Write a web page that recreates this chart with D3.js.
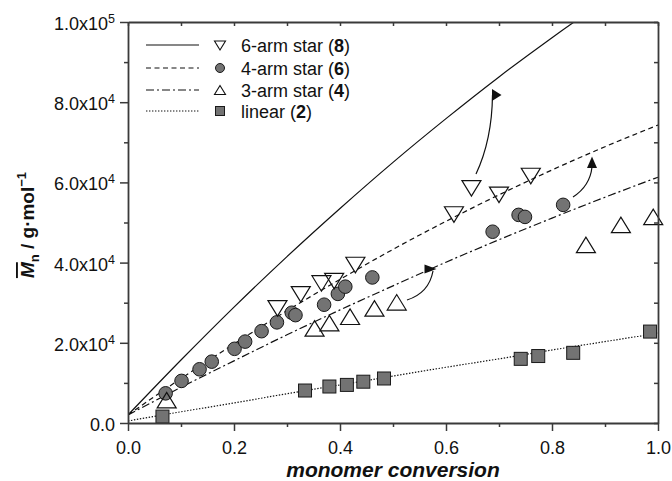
<!DOCTYPE html>
<html><head><meta charset="utf-8">
<script src="https://cdn.jsdelivr.net/npm/d3@7"></script>
<style>
html,body{margin:0;padding:0;background:#fff;}
svg{display:block;font-family:"Liberation Sans",Arial,Helvetica,sans-serif;}
</style></head>
<body>
<svg id="chart" width="672" height="481"></svg>
<script>
// ---------- data ----------
const sixArmX = [0.282, 0.326, 0.365, 0.389, 0.429, 0.615, 0.648, 0.700, 0.760];
const sixArmY = [28600, 32100, 34800, 35400, 39400, 52000, 58500, 56900, 61600];

const fourArmX = [0.071, 0.101, 0.135, 0.158, 0.201, 0.221, 0.252, 0.281, 0.309, 0.316, 0.370, 0.396, 0.410, 0.461, 0.688, 0.737, 0.749, 0.821];
const fourArmY = [7400, 10500, 13400, 15300, 18500, 20300, 22900, 25100, 27500, 26900, 29500, 32200, 34000, 36300, 47700, 51900, 51400, 54400];

const threeArmX = [0.073, 0.352, 0.380, 0.419, 0.465, 0.507, 0.864, 0.930, 0.991];
const threeArmY = [5700, 23600, 24900, 26500, 28600, 30100, 44400, 49400, 51400];

const linearX = [0.065, 0.334, 0.380, 0.413, 0.444, 0.483, 0.741, 0.774, 0.840, 0.985];
const linearY = [1600, 8100, 9100, 9500, 10300, 11100, 16000, 16700, 17500, 22800];

// theoretical curves
const curveX = [0, 0.1, 0.2, 0.3, 0.4, 0.5, 0.6, 0.7, 0.8, 0.9, 1.0];
const sixArmCurve = [2000, 15700, 28900, 41500, 53500, 65000, 75900, 86300, 96100, 105300, 114000];
const fourArmCurve = [2000, 11100, 19700, 28000, 35800, 43300, 50300, 56900, 63100, 68900, 74300];
const threeArmCurve = [2000, 8900, 15500, 22000, 28200, 34200, 40100, 45700, 51100, 56300, 61300];
const linearCurve = [500, 2800, 5000, 7300, 9500, 11700, 13900, 16000, 18200, 20300, 22400];

const xTicks = [0, 0.2, 0.4, 0.6, 0.8, 1.0];
const xTickLabels = ["0.0", "0.2", "0.4", "0.6", "0.8", "1.0"];
const xMinorTicks = [0.1, 0.3, 0.5, 0.7, 0.9];
const yTicks = [0, 20000, 40000, 60000, 80000, 100000];
const yTickMantissa = ["0.0", "2.0x10", "4.0x10", "6.0x10", "8.0x10", "1.0x10"];
const yTickExp = ["", "4", "4", "4", "4", "5"];
const yMinorTicks = [10000, 30000, 50000, 70000, 90000];

const legendLabels = ["6-arm star (", "4-arm star (", "3-arm star (", "linear ("];
const legendNums = ["8", "6", "4", "2"];

// ---------- layout ----------
const L = 128, R = 658, T = 22, B = 423;
const svg = d3.select("#chart");
const x = d3.scaleLinear().domain([0, 1]).range([L, R]);
const y = d3.scaleLinear().domain([0, 100000]).range([B, T]);
const AX = "#3a3a3a";

svg.append("defs").append("clipPath").attr("id", "clip")
  .append("rect").attr("x", L).attr("y", T).attr("width", R - L).attr("height", B - T);

// ---------- curves ----------
const styles = [
  {vals: sixArmCurve, dash: null},
  {vals: fourArmCurve, dash: "5,3.5"},
  {vals: threeArmCurve, dash: "8,3,2,3"},
  {vals: linearCurve, dash: "1.4,1.6"}
];
const line = d3.line().x(d => x(d[0])).y(d => y(d[1])).curve(d3.curveMonotoneX);
const gCurves = svg.append("g").attr("clip-path", "url(#clip)");
styles.forEach(s => {
  gCurves.append("path")
    .attr("d", line(curveX.map((v, i) => [v, s.vals[i]])))
    .attr("fill", "none").attr("stroke", "#111").attr("stroke-width", 1.2)
    .attr("stroke-dasharray", s.dash);
});

// ---------- markers ----------
function triPath(cx, cy, w, h, down) {
  const s = down ? 1 : -1;
  return `M${cx - w / 2},${cy - s * h / 2}L${cx + w / 2},${cy - s * h / 2}L${cx},${cy + s * h / 2}Z`;
}
const gM = svg.append("g");
gM.selectAll(".c4").data(fourArmX).join("circle")
  .attr("cx", d => x(d)).attr("cy", (d, i) => y(fourArmY[i])).attr("r", 6.8)
  .attr("fill", "#737373").attr("stroke", "#1a1a1a").attr("stroke-width", 1);
gM.selectAll(".t6").data(sixArmX).join("path")
  .attr("d", (d, i) => triPath(x(d), y(sixArmY[i]), 19, 15.5, true))
  .attr("fill", "none").attr("stroke", "#111").attr("stroke-width", 1.2);
gM.selectAll(".t3").data(threeArmX).join("path")
  .attr("d", (d, i) => triPath(x(d), y(threeArmY[i]), 19, 15.5, false))
  .attr("fill", "none").attr("stroke", "#111").attr("stroke-width", 1.2);
gM.selectAll(".sq").data(linearX).join("rect")
  .attr("x", d => x(d) - 6.5).attr("y", (d, i) => y(linearY[i]) - 6.5)
  .attr("width", 13).attr("height", 13)
  .attr("fill", "#737373").attr("stroke", "#1a1a1a").attr("stroke-width", 1);

// ---------- annotation arrows ----------
const arrows = [
  {d: "M476,174 Q492,140 492.5,95", head: "M492,89 L501.5,95 L492,101 Z"},
  {d: "M573,197 Q590,186 592,167", head: "M587,168 L592,156.5 L597,168 Z"},
  {d: "M407,300 Q429,293 433,271", head: "M424.5,264.5 L436.5,269 L424.5,273.5 Z"}
];
arrows.forEach(a => {
  svg.append("path").attr("d", a.d).attr("fill", "none").attr("stroke", "#111").attr("stroke-width", 1.2);
  svg.append("path").attr("d", a.head).attr("fill", "#111");
});

// ---------- axes ----------
const gx = svg.append("g").attr("transform", `translate(0,${B})`)
  .call(d3.axisBottom(x).tickValues(xTicks).tickSize(8).tickSizeOuter(0).tickFormat((d, i) => xTickLabels[i]));
svg.append("g").attr("transform", `translate(0,${B})`)
  .call(d3.axisBottom(x).tickValues(xMinorTicks).tickSize(4).tickSizeOuter(0).tickFormat(""))
  .select(".domain").remove();
gx.selectAll("text").attr("y", 31).attr("dy", 0).attr("font-size", 18).attr("fill", "#111")
  .attr("font-family", "Liberation Sans, Arial, sans-serif");

const gy = svg.append("g").attr("transform", `translate(${L},0)`)
  .call(d3.axisLeft(y).tickValues(yTicks).tickSize(8).tickSizeOuter(0).tickFormat(""));
svg.append("g").attr("transform", `translate(${L},0)`)
  .call(d3.axisLeft(y).tickValues(yMinorTicks).tickSize(4).tickSizeOuter(0).tickFormat(""))
  .select(".domain").remove();
gy.selectAll(".tick").each(function(d, i) {
  const t = d3.select(this).append("text")
    .attr("x", -13).attr("y", 7.5).attr("text-anchor", "end")
    .attr("font-size", 18).attr("fill", "#111")
    .attr("font-family", "Liberation Sans, Arial, sans-serif");
  t.append("tspan").text(yTickMantissa[i]);
  if (yTickExp[i]) t.append("tspan").attr("font-size", 12.5).attr("dy", -7).text(yTickExp[i]);
});

// top & right axes (inward ticks)
const xAll = xTicks.concat(xMinorTicks);
const yAll = yTicks.concat(yMinorTicks);
svg.append("g").attr("transform", `translate(0,${T})`)
  .call(d3.axisTop(x).tickValues(xAll).tickSize(-4).tickSizeOuter(0).tickFormat(""));
svg.append("g").attr("transform", `translate(${R},0)`)
  .call(d3.axisRight(y).tickValues(yAll).tickSize(-4).tickSizeOuter(0).tickFormat(""));

svg.selectAll(".domain").attr("stroke", AX).attr("stroke-width", 1.8);
svg.selectAll(".tick line").attr("stroke", AX).attr("stroke-width", 1.5);

// ---------- axis titles ----------
svg.append("text").attr("x", (L + R) / 2).attr("y", 477).attr("text-anchor", "middle")
  .attr("font-size", 21).attr("font-weight", "bold").attr("font-style", "italic").attr("fill", "#111")
  .text("monomer conversion");

const yt = svg.append("text").attr("transform", "translate(34,225) rotate(-90)")
  .attr("text-anchor", "middle").attr("font-size", 19).attr("font-weight", "bold").attr("fill", "#111");
yt.append("tspan").attr("font-style", "italic").attr("text-decoration", "overline").text("M");
yt.append("tspan").attr("font-size", 13).attr("dy", 5).text("n");
yt.append("tspan").attr("dy", -5).text(" / g·mol");
yt.append("tspan").attr("font-size", 13).attr("dy", -8).text("−1");

// ---------- legend ----------
const legY = [45, 68, 90, 111];
const lg = svg.append("g");
styles.forEach((s, i) => {
  lg.append("line").attr("x1", 146).attr("x2", 199).attr("y1", legY[i]).attr("y2", legY[i])
    .attr("stroke", "#111").attr("stroke-width", 1.1).attr("stroke-dasharray", s.dash);
  const t = lg.append("text").attr("x", 241).attr("y", legY[i] + 6.5)
    .attr("font-size", 18).attr("fill", "#111");
  t.append("tspan").text(legendLabels[i]);
  t.append("tspan").attr("font-weight", "bold").text(legendNums[i]);
  t.append("tspan").text(")");
});
const mx = 220;
lg.append("path").attr("d", triPath(mx, legY[0] + 0.5, 11, 9, true)).attr("fill", "none").attr("stroke", "#111").attr("stroke-width", 1.1);
lg.append("circle").attr("cx", mx).attr("cy", legY[1]).attr("r", 4.5).attr("fill", "#737373").attr("stroke", "#1a1a1a");
lg.append("path").attr("d", triPath(mx, legY[2], 11, 9, false)).attr("fill", "none").attr("stroke", "#111").attr("stroke-width", 1.1);
lg.append("rect").attr("x", mx - 4.5).attr("y", legY[3] - 4.5).attr("width", 9).attr("height", 9).attr("fill", "#737373").attr("stroke", "#1a1a1a");
</script>
</body></html>
